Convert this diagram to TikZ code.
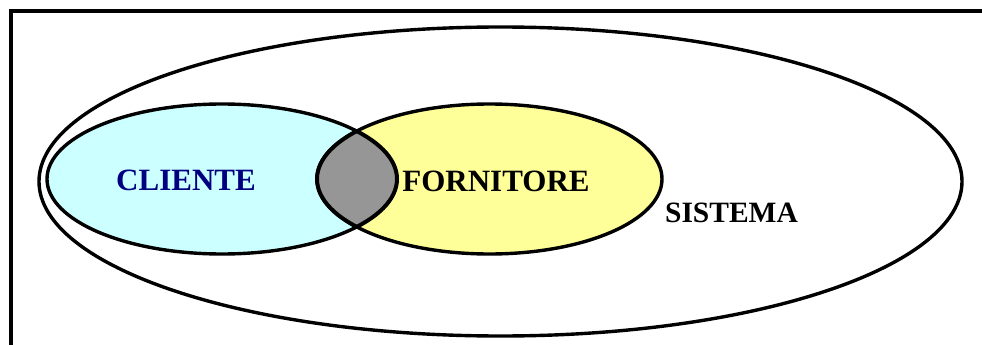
\documentclass[tikz,border=0pt]{standalone}
\usepackage{fontspec}
\setmainfont{Liberation Serif}
\usetikzlibrary{calc}
\definecolor{clientfill}{HTML}{CCFFFF}
\definecolor{suppfill}{HTML}{FFFF99}
\definecolor{lensfill}{HTML}{969696}
\definecolor{clientblue}{HTML}{000080}

\begin{document}
\begin{tikzpicture}[x=1pt, y=-1pt, line width=3.4pt,
    lbl/.style={font=\bfseries\fontsize{31}{36}\selectfont, inner sep=0pt}]
  \useasboundingbox (0,0) rectangle (982,345);
  \clip (0,0) rectangle (982,345);
  \draw[line width=4pt] (10.5,11.5) rectangle (1000,370);
  % sistema
  \draw (500.5,181.5) ellipse [x radius=461.5, y radius=154.5];
  % cliente e fornitore
  \draw[fill=clientfill] (222,179) ellipse [x radius=175, y radius=75];
  \draw[fill=suppfill] (489.5,179) ellipse [x radius=172.5, y radius=75];
  \begin{scope}
    \clip (222,179) ellipse [x radius=175, y radius=75];
    \fill[lensfill] (489.5,179) ellipse [x radius=172.5, y radius=75];
  \end{scope}
  \begin{scope}
    \clip (222,179) ellipse [x radius=176.5, y radius=76.5];
    \draw[line width=4pt] (489.5,179) ellipse [x radius=172.5, y radius=75];
  \end{scope}
  \begin{scope}
    \clip (489.5,179) ellipse [x radius=174, y radius=76.5];
    \draw[line width=4pt] (222,179) ellipse [x radius=175, y radius=75];
  \end{scope}
  \node[lbl, text=clientblue] (cliente) at (186,180) {CLIENTE};
  \node[lbl] (fornitore) at (496,181) {FORNITORE};
  \node[lbl, font=\bfseries\fontsize{29.5}{34}\selectfont] (sistema) at (731.5,213) {SISTEMA};
\end{tikzpicture}
\end{document}
